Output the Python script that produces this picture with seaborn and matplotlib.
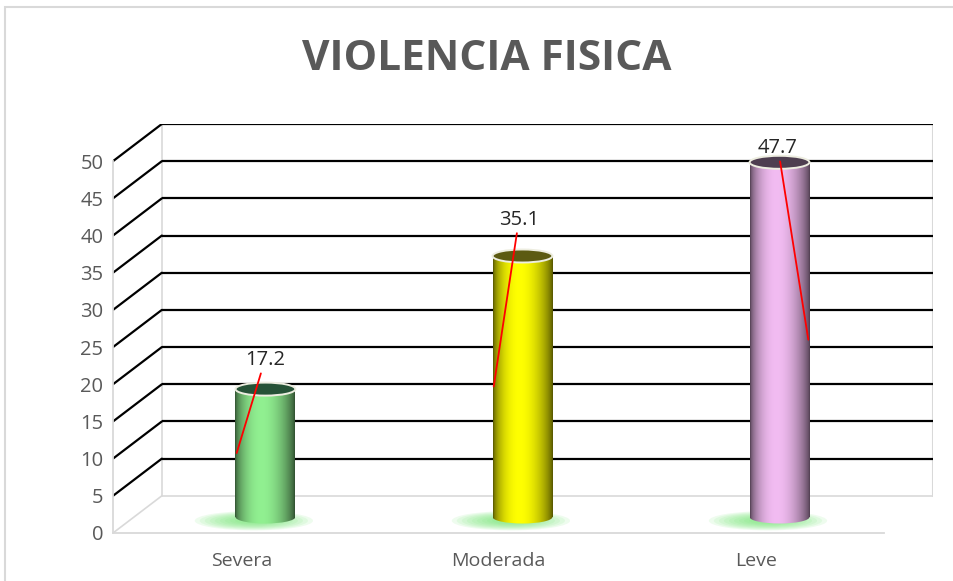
import matplotlib
matplotlib.use("Agg")
import matplotlib.pyplot as plt
import matplotlib.patches as mpatches
import numpy as np
import seaborn as sns

CATEGORIES = ["Severa", "Moderada", "Leve"]
VALUES = [17.2, 35.1, 47.7]
YTICKS = [0, 5, 10, 15, 20, 25, 30, 35, 40, 45, 50]
TITLE = "VIOLENCIA FISICA"

BASE_RGB = [(145, 240, 145), (255, 255, 0), (242, 188, 242)]
TOP_RGB = [(38, 82, 55), (92, 90, 18), (78, 62, 80)]

# fake 3d depth, in data units
DX, DY = 0.19, 5.0
CX_OFF, BOTTOM = 0.093, 2.15
BAR_W = 0.233
ELL_H = 1.75

LABEL_DX = [-0.002, -0.014, -0.006]
LABEL_DY = [3.9, 4.85, 1.9]
LEADER_SIDE = [-1, -1, 1]

GRID = "#d9d9d9"
TEXT = "#595959"

sns.set_theme(style="white")
plt.rcParams["font.family"] = ["Open Sans", "DejaVu Sans"]

fig = plt.figure(figsize=(9.54, 5.81), dpi=100)
ax = fig.add_axes([113 / 954, 48 / 581, 820 / 954, 409 / 581])

sns.barplot(x=CATEGORIES, y=VALUES, hue=CATEGORIES,
            palette=[tuple(c / 255 for c in rgb) for rgb in BASE_RGB],
            width=BAR_W, saturation=1, legend=False, ax=ax, zorder=3)

# back wall + side wall
for t in YTICKS:
    c = GRID if t == 0 else "black"
    lw = 1.2 if t == 0 else 1.6
    ax.plot([-0.5 + DX, 2.5 + DX], [t + DY, t + DY], color=c, lw=lw, zorder=1,
            solid_capstyle="butt")
    ax.plot([-0.5, -0.5 + DX], [t, t + DY], color=c, lw=lw, zorder=1)
ax.plot([-0.5 + DX, -0.5 + DX], [DY, 50 + DY], color=GRID, lw=1.2, zorder=0.9)
ax.plot([2.5 + DX, 2.5 + DX], [DY, 50 + DY], color=GRID, lw=1.5, zorder=0.9)

s = np.linspace(0, 1, 120)
prof = 0.33 + 0.67 * np.sin(np.pi * s ** 0.85) ** 0.7

for i, (bar, v) in enumerate(zip(ax.patches, VALUES)):
    cx = i + CX_OFF
    bar.set_x(cx - BAR_W / 2)
    bar.set_y(BOTTOM)
    bar.set_edgecolor("none")
    base = np.array(BASE_RGB[i]) / 255
    grad = np.clip(prof[None, :, None] * base[None, None, :], 0, 1)
    x0, x1 = cx - BAR_W / 2, cx + BAR_W / 2
    top = BOTTOM + v

    # green glow on the floor
    for k in range(9):
        sc = 1 - k * 0.085
        ax.add_patch(mpatches.Ellipse((cx - 0.045, BOTTOM - 0.5), 0.46 * sc, 2.6 * sc,
                                      facecolor=(0.42, 0.9, 0.42), edgecolor="none",
                                      alpha=0.11, zorder=2))

    im = ax.imshow(grad, extent=[x0, x1, BOTTOM, top], aspect="auto",
                   interpolation="bilinear", zorder=3.1)
    im.set_clip_path(bar)

    bottom_ell = mpatches.Ellipse((cx, BOTTOM), BAR_W, ELL_H, facecolor="none",
                                  edgecolor="none", zorder=3)
    ax.add_patch(bottom_ell)
    im2 = ax.imshow(grad, extent=[x0, x1, BOTTOM - ELL_H / 2, BOTTOM], aspect="auto",
                    interpolation="bilinear", zorder=3.1)
    im2.set_clip_path(bottom_ell)

    ax.add_patch(mpatches.Ellipse((cx, top), BAR_W, ELL_H,
                                  facecolor=np.array(TOP_RGB[i]) / 255,
                                  edgecolor=(0.93, 0.93, 0.88), lw=1.4, zorder=3.5))

    ax.annotate(f"{v:.1f}", xy=(cx + LEADER_SIDE[i] * 0.112, BOTTOM + v / 2),
                xytext=(cx + LABEL_DX[i], top + LABEL_DY[i]),
                ha="center", va="center", fontsize=14.5, color="#262626",
                family=["Open Sans", "DejaVu Sans"], zorder=5,
                arrowprops=dict(arrowstyle="-", color="red", lw=1.3,
                                shrinkA=0, shrinkB=0), annotation_clip=False)

ax.set_xlim(-0.5, 2.5 + DX)
ax.set_ylim(0, 50 + DY)
ax.set_yticks(YTICKS)
ax.set_yticklabels([str(t) for t in YTICKS])
ax.set_xticks(range(len(CATEGORIES)))
ax.set_xticklabels(CATEGORIES)
ax.tick_params(axis="y", length=0, pad=7, labelsize=14.5, labelcolor=TEXT)
ax.tick_params(axis="x", length=0, pad=14, labelsize=14, labelcolor=TEXT)
ax.set_xlabel("")
ax.set_ylabel("")
ax.grid(False)
for side in ["top", "right"]:
    ax.spines[side].set_visible(False)
ax.spines["left"].set_bounds(0, 50)
ax.spines["bottom"].set_bounds(-0.5, 2.5)
for side in ["left", "bottom"]:
    ax.spines[side].set_color(GRID)
    ax.spines[side].set_linewidth(1.3)
ax.patch.set_alpha(0)

fig.text(0.51, 0.898, TITLE, ha="center", va="center", fontsize=30.5,
         fontweight="bold", color=TEXT)

fig.patches.append(mpatches.Rectangle((5 / 954, -0.05), 1.1, 1 - 7 / 581 + 0.05,
                                      transform=fig.transFigure, fill=False,
                                      edgecolor=GRID, lw=1.5))

fig.savefig("out.png", dpi=100)
